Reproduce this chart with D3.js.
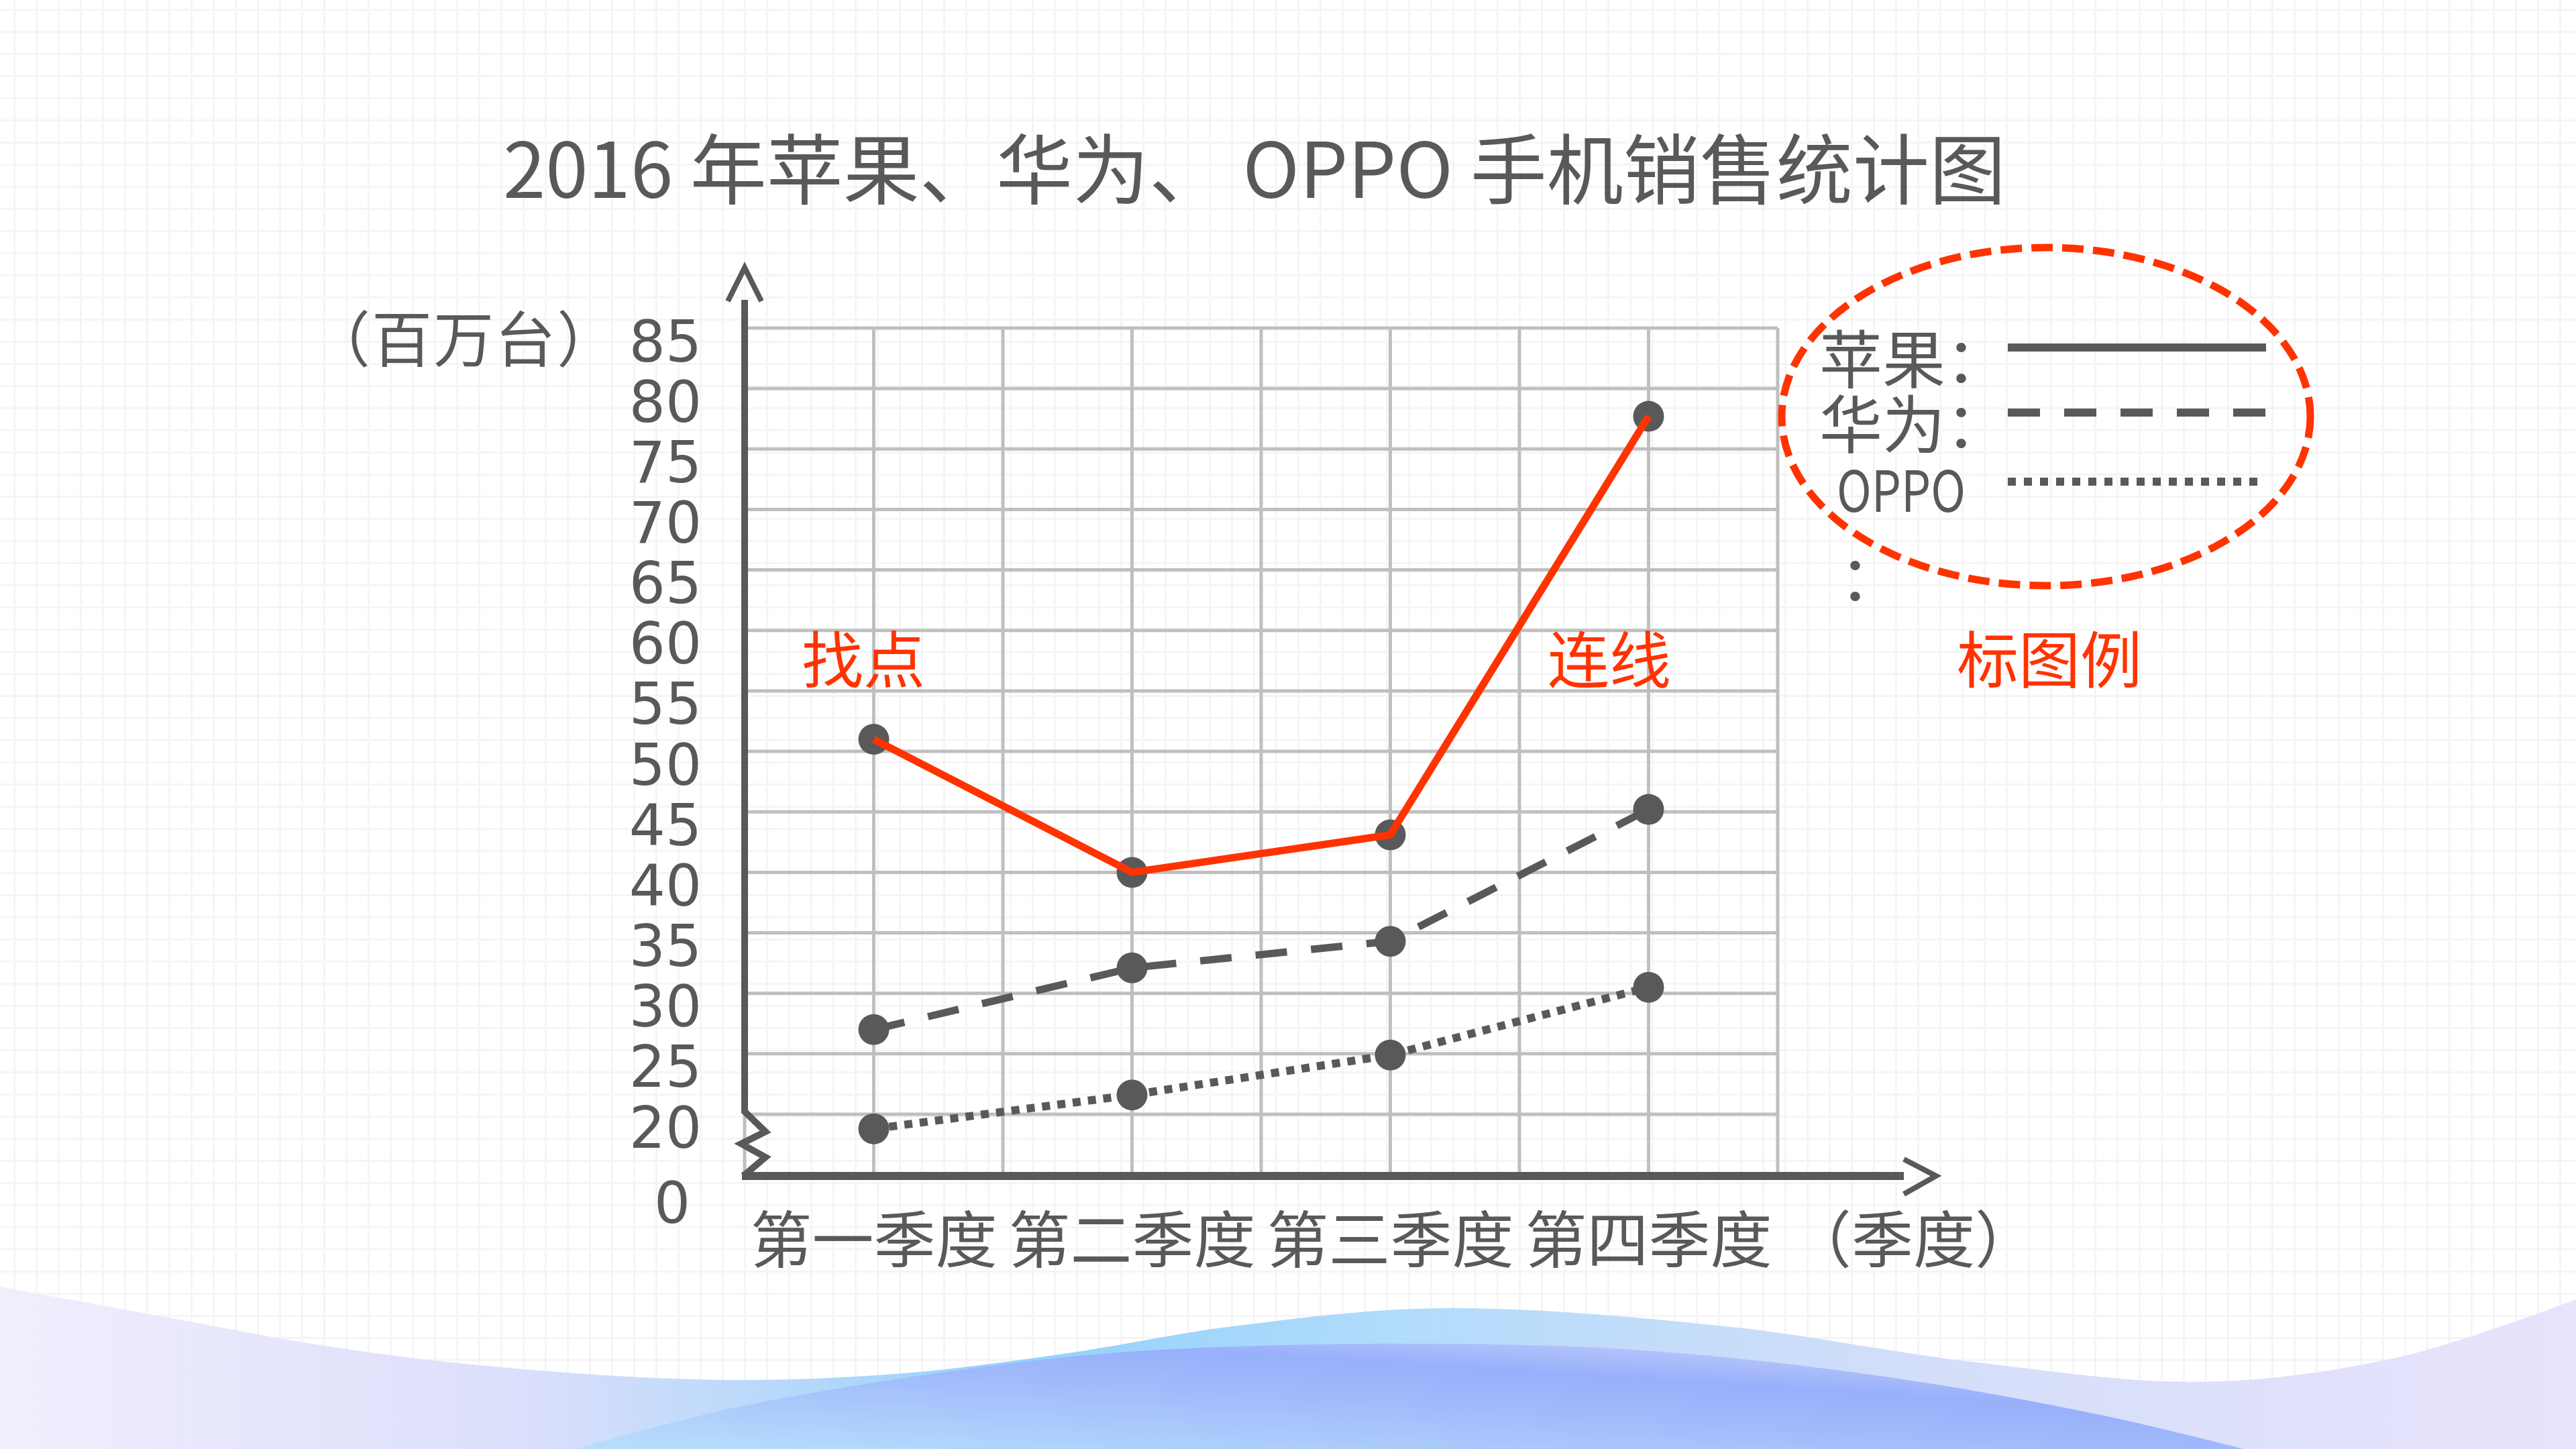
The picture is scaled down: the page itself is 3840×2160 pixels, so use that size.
<!DOCTYPE html>
<html lang="zh">
<head>
<meta charset="utf-8"/>
<script src="https://d3js.org/d3.v7.min.js"></script>
<style>
  body { margin: 0; background: #fff; }
  svg text { font-family: "Noto Sans CJK SC", sans-serif; fill: #595959; }
</style>
</head>
<body>
<div id="chart"></div>
<script>
// data (millions of units)
var quarters = ["第一季度", "第二季度", "第三季度", "第四季度"];
var apple  = [51.0, 40.0, 43.1, 77.7];
var huawei = [27.0, 32.1, 34.3, 45.2];
var oppo   = [18.8, 21.6, 24.9, 30.5];
var yTicks = [20, 25, 30, 35, 40, 45, 50, 55, 60, 65, 70, 75, 80, 85];
var legendNames = ["苹果：", "华为：", "OPPO"];

var W = 3840, H = 2160;
var gray = "#595959", red = "#ff3300", gridC = "#bfbfbf";

var svg = d3.select("#chart").append("svg")
    .attr("width", W).attr("height", H);
var defs = svg.append("defs");

// faint paper grid in the background
var pat = defs.append("pattern").attr("id", "paper")
    .attr("patternUnits", "userSpaceOnUse")
    .attr("width", 33).attr("height", 33).attr("x", 20).attr("y", 13);
pat.append("path").attr("d", "M0 1.5 H33 M1.5 0 V33")
    .attr("stroke", "#f5f5f5").attr("stroke-width", 3).attr("fill", "none");
svg.append("rect").attr("width", W).attr("height", H).attr("fill", "#fff");
svg.append("rect").attr("width", W).attr("height", H).attr("fill", "url(#paper)");

// bottom waves
var g1 = defs.append("linearGradient").attr("id", "waveBack").attr("x1", 0).attr("x2", 1).attr("y1", 0).attr("y2", 0);
[[0, "#f1eefd"], [0.2, "#dcdffb"], [0.4, "#94d2fb"], [0.55, "#b3dcfb"], [0.75, "#d4def9"], [1, "#e9e3fc"]]
    .forEach(function (s) { g1.append("stop").attr("offset", s[0]).attr("stop-color", s[1]); });
var g2 = defs.append("linearGradient").attr("id", "waveFront").attr("x1", 0).attr("x2", 1).attr("y1", 1).attr("y2", 0);
[[0, "#b9defc"], [0.45, "#a1bcfb"], [0.65, "#97b0fb"], [1, "#dcdcf9"]]
    .forEach(function (s) { g2.append("stop").attr("offset", s[0]).attr("stop-color", s[1]); });

var wave = d3.line().curve(d3.curveCatmullRom);
var backPts = [[0, 1918], [245, 1963], [490, 2007], [735, 2037], [1078, 2057], [1348, 2047], [1593, 2017],
    [1838, 1977], [2150, 1950], [2572, 1977], [2939, 2030], [3284, 2060], [3576, 2023], [3840, 1937]];
svg.append("path")
    .attr("d", wave(backPts) + "L3840,2160L0,2160Z")
    .attr("fill", "url(#waveBack)");
var frontPts = [[857, 2160], [1102, 2097], [1470, 2037], [1715, 2013], [2094, 2003], [2449, 2013],
    [2816, 2053], [3135, 2110], [3345, 2160]];
svg.append("path")
    .attr("d", wave(frontPts) + "Z")
    .attr("fill", "url(#waveFront)");

// title
svg.append("text")
    .attr("x", 750).attr("y", 245)
    .attr("dominant-baseline", "central")
    .attr("font-size", 114)
    .attr("textLength", 2240).attr("lengthAdjust", "spacingAndGlyphs")
    .text("2016 年苹果、华为、 OPPO 手机销售统计图");

// scales
var x = d3.scalePoint().domain(quarters).range([1110, 2650]).padding(0.5);
var y = d3.scaleLinear().domain([20, 85]).range([1661, 489]);
var x0 = x.range()[0], x1 = x.range()[1];
var baseY = y(20) + 92;
var half = x.step() / 2;

// grid
var grid = svg.append("g").attr("stroke", gridC).attr("stroke-width", 5);
grid.selectAll(".h").data(yTicks).enter().append("line")
    .attr("x1", x0).attr("x2", x1)
    .attr("y1", function (d) { return y(d); }).attr("y2", function (d) { return y(d); });
grid.selectAll(".v").data(d3.range(0, 9)).enter().append("line")
    .attr("x1", function (i) { return x0 + i * half; })
    .attr("x2", function (i) { return x0 + i * half; })
    .attr("y1", y(85)).attr("y2", baseY);

// axes (with break zigzag near the bottom)
var ax = svg.append("g").attr("stroke", gray).attr("fill", "none");
ax.append("path")
    .attr("d", "M" + x0 + "," + (y(85) - 42) + "V" + (y(20) - 4) +
        "L" + (x0 + 31) + "," + (y(20) + 26) + "L" + (x0 - 5) + "," + (y(20) + 44) +
        "L" + (x0 + 31) + "," + (y(20) + 64) + "L" + (x0 - 2) + "," + baseY)
    .attr("stroke-width", 10);
ax.append("line")
    .attr("x1", x0 - 4).attr("x2", 2838).attr("y1", baseY).attr("y2", baseY)
    .attr("stroke-width", 12);
ax.append("path")
    .attr("d", "M" + (x0 - 25) + "," + (y(85) - 40) + "L" + x0 + "," + (y(85) - 90) + "L" + (x0 + 25) + "," + (y(85) - 40))
    .attr("stroke-width", 8);
ax.append("path")
    .attr("d", "M2838," + (baseY - 25) + "L2886," + baseY + "L2838," + (baseY + 27))
    .attr("stroke-width", 8);

// y tick labels
svg.append("g").selectAll("text").data(yTicks).enter().append("text")
    .attr("x", 1046).attr("y", function (d) { return y(d) + 20; })
    .attr("text-anchor", "end").attr("dominant-baseline", "central")
    .attr("font-size", 85).style("font-family", "DejaVu Sans")
    .text(function (d) { return d; });
svg.append("text")
    .attr("x", 1002).attr("y", baseY + 40)
    .attr("text-anchor", "middle").attr("dominant-baseline", "central")
    .attr("font-size", 85).style("font-family", "DejaVu Sans")
    .text("0");
svg.append("text")
    .attr("x", 462).attr("y", 500)
    .attr("dominant-baseline", "central").attr("font-size", 90)
    .attr("letter-spacing", 2)
    .text("（百万台）");

// x labels
svg.append("g").selectAll("text").data(quarters).enter().append("text")
    .attr("x", function (d) { return x(d); }).attr("y", baseY + 88)
    .attr("text-anchor", "middle").attr("dominant-baseline", "central")
    .attr("font-size", 92)
    .text(function (d) { return d; });
svg.append("text")
    .attr("x", 2668).attr("y", baseY + 88)
    .attr("dominant-baseline", "central").attr("font-size", 92)
    .text("（季度）");

// series
var line = d3.line()
    .x(function (d, i) { return x(quarters[i]); })
    .y(function (d) { return y(d); });

svg.append("path").datum(huawei).attr("d", line)
    .attr("fill", "none").attr("stroke", gray).attr("stroke-width", 11)
    .attr("stroke-dasharray", "47 36");
svg.append("path").datum(oppo).attr("d", line)
    .attr("fill", "none").attr("stroke", gray).attr("stroke-width", 12)
    .attr("stroke-dasharray", "12 11");

[apple, huawei, oppo].forEach(function (s) {
    svg.append("g").selectAll("circle").data(s).enter().append("circle")
        .attr("cx", function (d, i) { return x(quarters[i]); })
        .attr("cy", function (d) { return y(d); })
        .attr("r", 23).attr("fill", gray);
});

svg.append("path").datum(apple).attr("d", line)
    .attr("fill", "none").attr("stroke", red).attr("stroke-width", 11)
    .attr("stroke-linejoin", "miter");

// red notes
var notes = [["找点", 1287], ["连线", 2399], ["标图例", 3055]];
svg.append("g").selectAll("text").data(notes).enter().append("text")
    .attr("x", function (d) { return d[1]; }).attr("y", 977)
    .attr("text-anchor", "middle").attr("dominant-baseline", "central")
    .attr("font-size", 92).style("fill", red)
    .text(function (d) { return d[0]; });

// legend
var lg = svg.append("g");
var rowY = [530, 627, 725];
var dashes = [null, "48 36", "12 12"];
lg.selectAll("text.name").data(legendNames).enter().append("text")
    .attr("class", "name")
    .attr("x", function (d, i) { return i === 2 ? 2738 : 2712; })
    .attr("y", function (d, i) { return rowY[i]; })
    .attr("dominant-baseline", "central")
    .attr("font-size", function (d, i) { return i === 2 ? 85 : 94; })
    .attr("textLength", function (d, i) { return i === 2 ? 192 : null; })
    .attr("lengthAdjust", "spacingAndGlyphs")
    .text(function (d) { return d; });
lg.append("text")
    .attr("x", 2742).attr("y", 855)
    .attr("dominant-baseline", "central").attr("font-size", 94)
    .text("：");
lg.selectAll("line").data(legendNames).enter().append("line")
    .attr("x1", 2993).attr("x2", function (d, i) { return i === 2 ? 3370 : 3378; })
    .attr("y1", function (d, i) { return rowY[i] - 12 + (i === 2 ? 5 : 0); })
    .attr("y2", function (d, i) { return rowY[i] - 12 + (i === 2 ? 5 : 0); })
    .attr("stroke", gray).attr("stroke-width", 12)
    .attr("stroke-dasharray", function (d, i) { return dashes[i]; });
lg.append("ellipse")
    .attr("cx", 3050).attr("cy", 621).attr("rx", 394).attr("ry", 252)
    .attr("fill", "none").attr("stroke", red).attr("stroke-width", 11)
    .attr("stroke-dasharray", "32 14");
</script>
</body>
</html>
